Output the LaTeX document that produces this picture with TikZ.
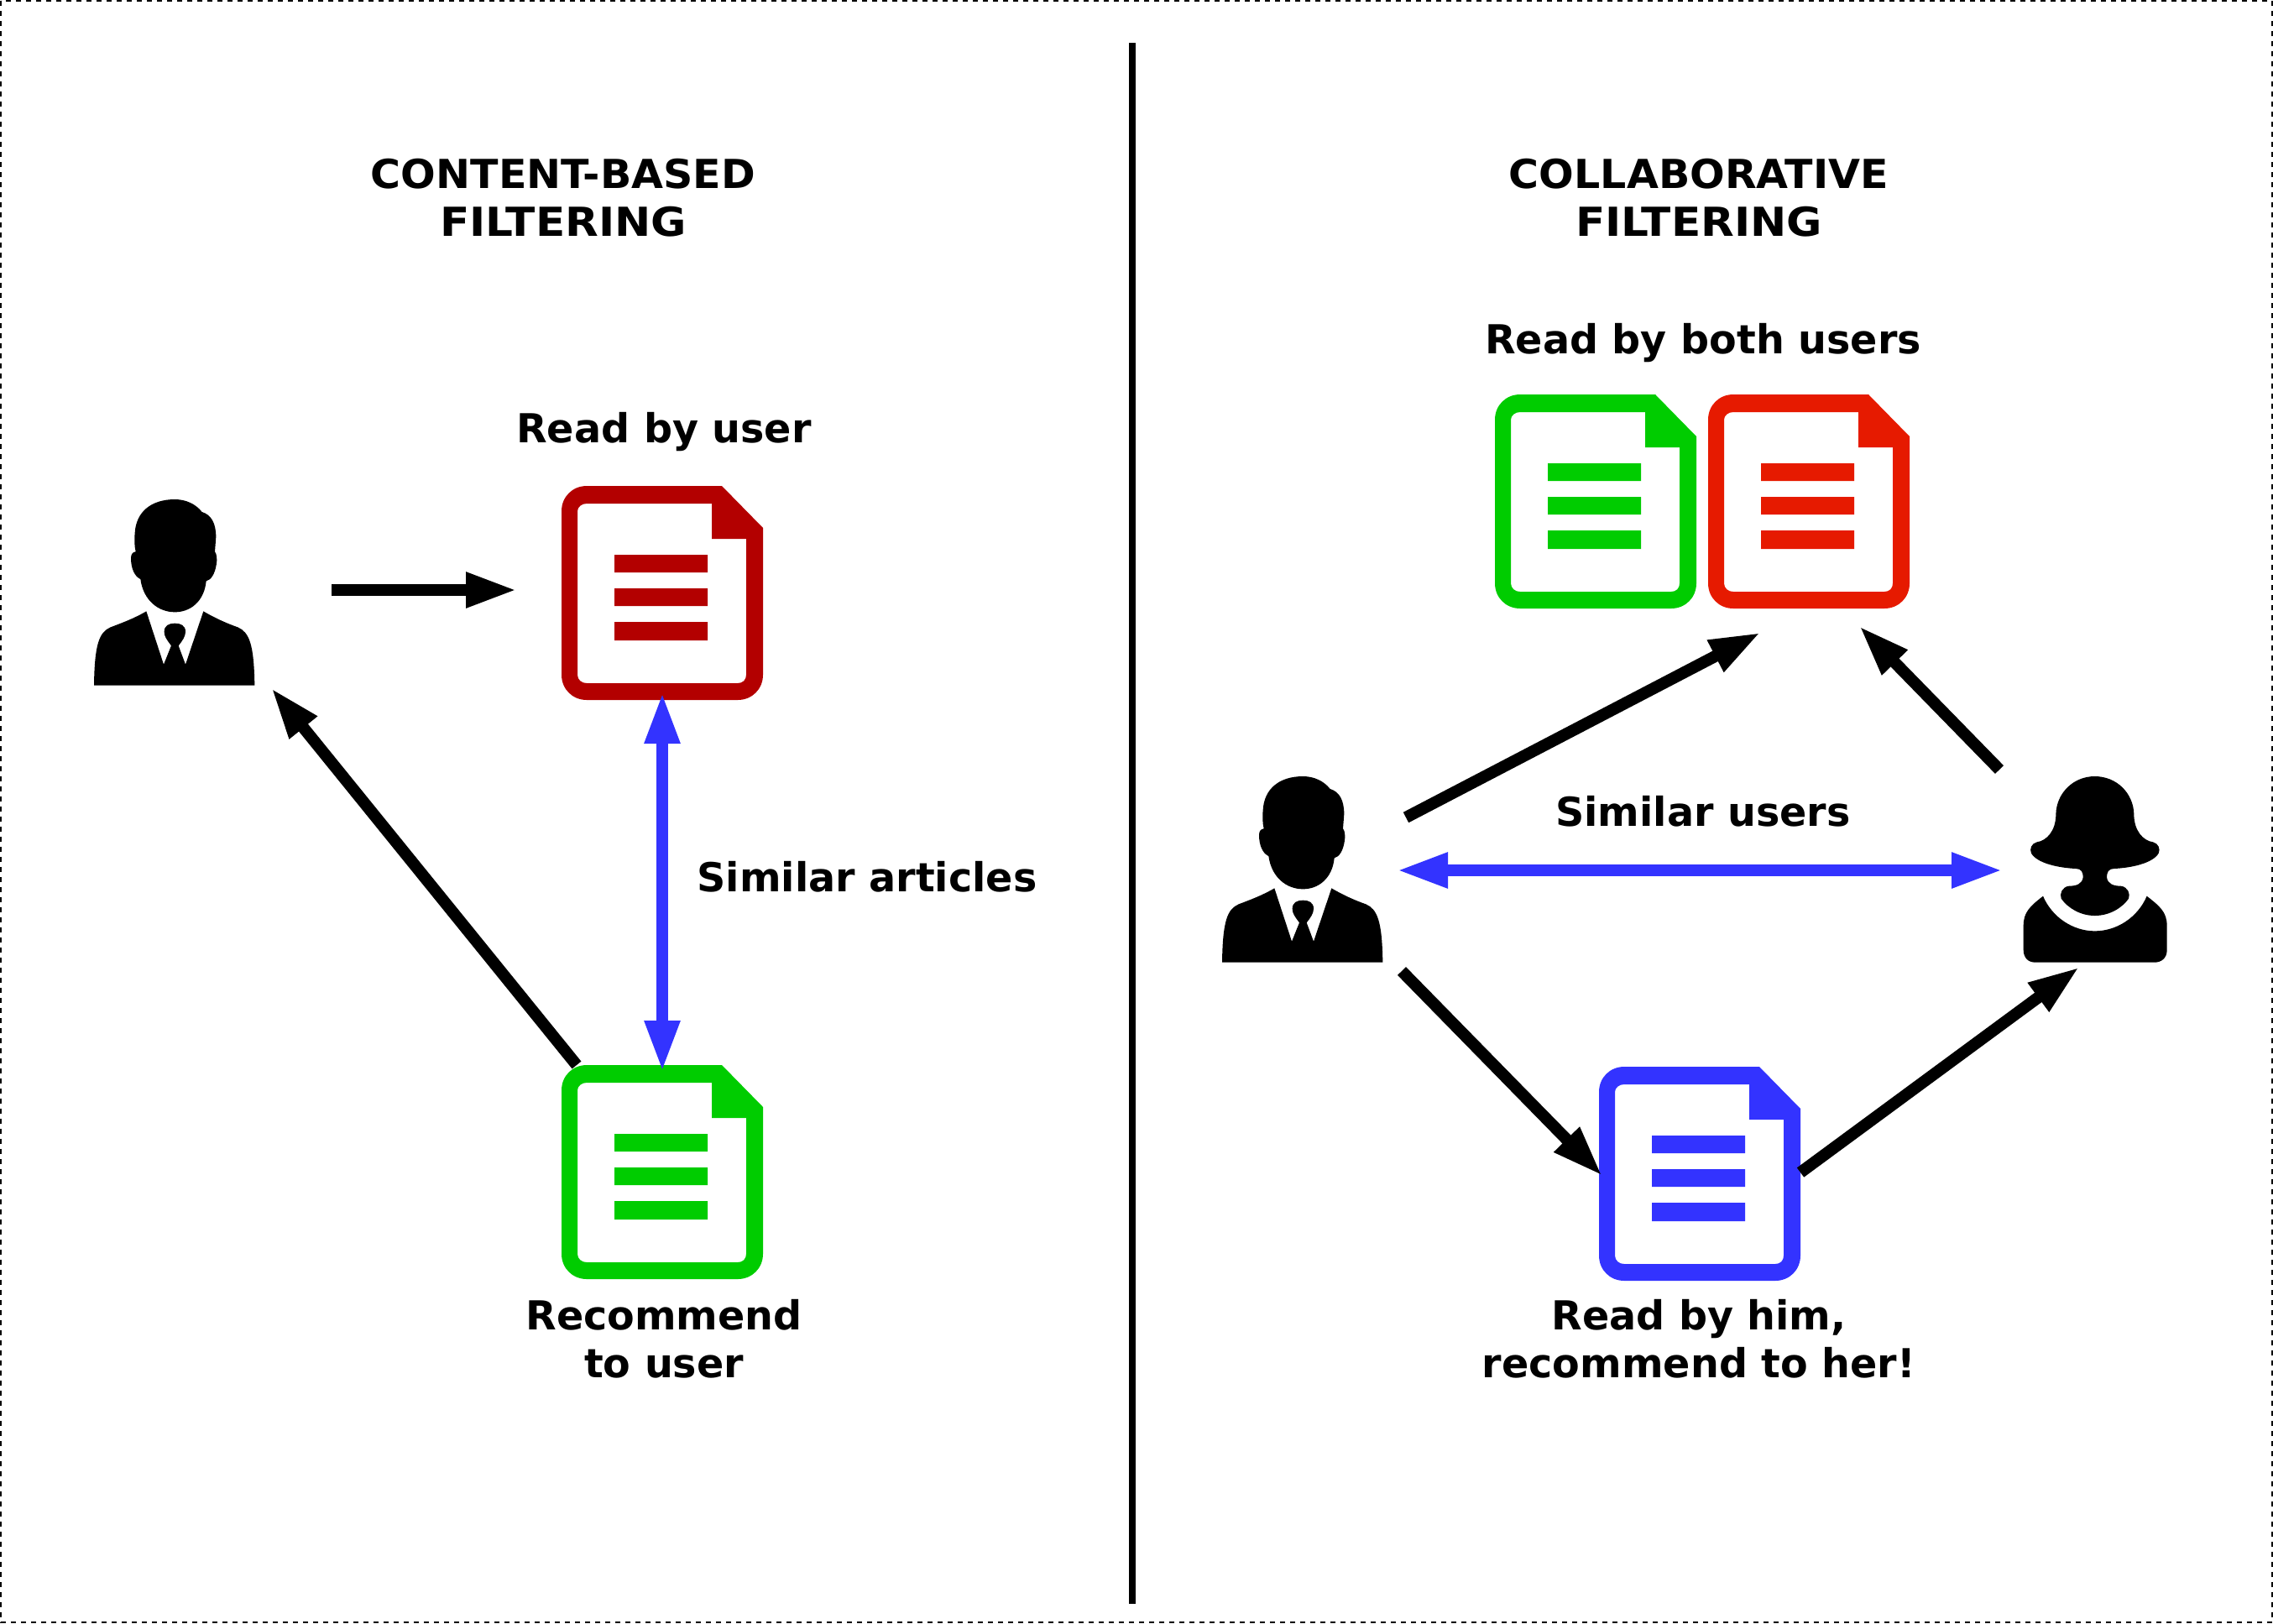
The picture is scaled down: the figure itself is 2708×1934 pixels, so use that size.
\documentclass[tikz,border=0pt]{standalone}
\usepackage{fontspec}
\setmainfont{DejaVu Sans}[BoldFont={DejaVu Sans Bold}]
\newfontfamily\headfont{DejaVu Sans Bold}[FakeStretch=1.03]
\newfontfamily\headwide{DejaVu Sans Bold}[FakeStretch=1.085]
\usetikzlibrary{arrows.meta}
\definecolor{cdark}{HTML}{B30000}
\definecolor{cgreen}{HTML}{00CC00}
\definecolor{cred}{HTML}{E61A00}
\definecolor{cblue}{HTML}{3333FF}
\newcommand\docicon[2]{%
\begin{scope}[shift={#1}]
\fill[#2,even odd rule] (30,0) -- (191,0) -- (240,50) -- (240,225) .. controls (240,242) and (227,255) .. (210,255) -- (30,255) .. controls (13,255) and (0,242) .. (0,225) -- (0,30) .. controls (0,13) and (13,0) .. (30,0) -- cycle
 (30,21) -- (179,21) -- (179,63) -- (220,63) -- (220,225) .. controls (220,231) and (216,235) .. (210,235) -- (30,235) .. controls (24,235) and (19,231) .. (19,225) -- (19,30) .. controls (19,25) and (24,21) .. (30,21) -- cycle;
\fill[#2] (63,82) rectangle (174,103) (63,122) rectangle (174,143) (63,162) rectangle (174,184);
\end{scope}}
\newcommand\manicon[1]{%
\begin{scope}[shift={#1},x=0.16667pt,y=-0.16667pt]
\fill[black] (385,105) .. controls (425,105) and (460,122) .. (482,150) .. controls (515,160) and (532,190) .. (532,240) -- (528,292) .. controls (535,300) and (537,320) .. (533,340) .. controls (528,370) and (515,393) .. (497,397) .. controls (490,470) and (440,508) .. (385,508) .. controls (325,508) and (272,465) .. (262,390) .. controls (240,380) and (228,350) .. (228,315) .. controls (228,300) and (235,293) .. (245,292) .. controls (240,270) and (240,250) .. (242,225) .. controls (246,150) and (300,105) .. (385,105) -- cycle;
\fill[black] (283,505) -- (345,695) -- (372,628) .. controls (355,605) and (347,595) .. (347,578) .. controls (347,555) and (365,548) .. (385,548) .. controls (405,548) and (423,555) .. (423,578) .. controls (423,595) and (412,610) .. (398,628) -- (423,695) -- (487,505) .. controls (530,530) and (570,548) .. (610,562) .. controls (650,580) and (668,620) .. (670,770) -- (96,770) .. controls (98,620) and (115,580) .. (155,562) .. controls (200,545) and (240,530) .. (283,505) -- cycle;
\end{scope}}
\newcommand\womanicon[1]{%
\begin{scope}[shift={#1},x=0.16667pt,y=-0.16667pt]
\fill[black] (347,75) .. controls (425,75) and (485,135) .. (487,210) .. controls (487,270) and (520,305) .. (555,310) .. controls (575,315) and (582,335) .. (575,350) .. controls (555,385) and (480,402) .. (415,405) .. controls (395,405) and (390,420) .. (390,435) .. controls (392,460) and (415,467) .. (440,467) .. controls (465,470) and (475,495) .. (468,512) .. controls (445,545) and (400,573) .. (347,573) .. controls (295,573) and (250,545) .. (227,512) .. controls (220,495) and (230,470) .. (255,467) .. controls (280,467) and (303,460) .. (305,435) .. controls (305,420) and (300,405) .. (280,405) .. controls (215,402) and (140,385) .. (120,350) .. controls (113,335) and (120,315) .. (140,310) .. controls (175,305) and (208,270) .. (208,210) .. controls (210,135) and (270,75) .. (347,75) -- cycle;
\fill[black] (162,503) .. controls (195,580) and (270,628) .. (347,628) .. controls (425,628) and (500,580) .. (533,503) .. controls (580,540) and (605,560) .. (605,610) -- (605,695) .. controls (605,725) and (585,740) .. (560,740) -- (135,740) .. controls (110,740) and (92,725) .. (92,695) -- (92,610) .. controls (92,560) and (115,540) .. (162,503) -- cycle;
\end{scope}}
\tikzset{
 conn/.style={line width=7pt,draw=black,shorten >=-1.5pt,-{Triangle[length=30.5pt,width=19.5pt]}},
 sim/.style={line width=7pt,draw=cblue,shorten >=-1.5pt,shorten <=-1.5pt,{Triangle[length=30.5pt,width=19.5pt]}-{Triangle[length=30.5pt,width=19.5pt]}},
 lab/.style={font=\fontsize{23.8}{28.5}\selectfont\bfseries,align=center,text=black,inner sep=0pt},
}
\begin{document}
\begin{tikzpicture}[x=0.5pt,y=-0.5pt]
\useasboundingbox (0,0) rectangle (2708,1934);
\fill[white] (0,0) rectangle (2708,1934);
\draw[line width=1pt,dash pattern=on 3pt off 3pt] (1,1) rectangle (2707,1933);
\coordinate (dtop) at (1349,51);
\coordinate (dbot) at (1349,1911);
\draw[line width=4pt] (dtop) -- (dbot);
\docicon{(669,579)}{cdark}
\docicon{(669,1269)}{cgreen}
\docicon{(1781,470)}{cgreen}
\docicon{(2035,470)}{cred}
\docicon{(1905,1271)}{cblue}
\manicon{(80,560)}
\manicon{(1424,890)}
\womanicon{(2380,900)}
\node[lab] (t1) at (671,236) {{\headfont CONTENT-BASED}\\{\headwide FILTERING}};
\node[lab] (t2) at (2024,236) {{\headfont COLLABORATIVE}\\{\headwide FILTERING}};
\node[lab] (l1) at (791,515) {Read by user};
\node[lab] (l2) at (2029,409) {Read by both users};
\node[lab] (l3) at (1033,1045) {Similar articles};
\node[lab] (l4) at (2029,967) {Similar users};
\node[lab] (l5) at (791,1595) {Recommend\\to user};
\node[lab] (l6) at (2024,1595) {Read by him,\\recommend to her!};
\coordinate (a1s) at (395,703); \coordinate (a1e) at (613,703);
\coordinate (a2s) at (687,1269); \coordinate (a2e) at (325,822);
\coordinate (b1s) at (789,828); \coordinate (b1e) at (789,1274);
\coordinate (a3s) at (1675,974); \coordinate (a3e) at (2095,755);
\coordinate (a4s) at (2382,917); \coordinate (a4e) at (2217,748);
\coordinate (b2s) at (1667,1037); \coordinate (b2e) at (2383,1037);
\coordinate (a5s) at (1670,1157); \coordinate (a5e) at (1907,1399);
\coordinate (a6s) at (2145,1397); \coordinate (a6e) at (2475,1154);
\draw[conn] (a1s) -- (a1e);
\draw[conn] (a2s) -- (a2e);
\draw[sim] (b1s) -- (b1e);
\draw[conn] (a3s) -- (a3e);
\draw[conn] (a4s) -- (a4e);
\draw[sim] (b2s) -- (b2e);
\draw[conn] (a5s) -- (a5e);
\draw[conn] (a6s) -- (a6e);
\end{tikzpicture}
\end{document}
